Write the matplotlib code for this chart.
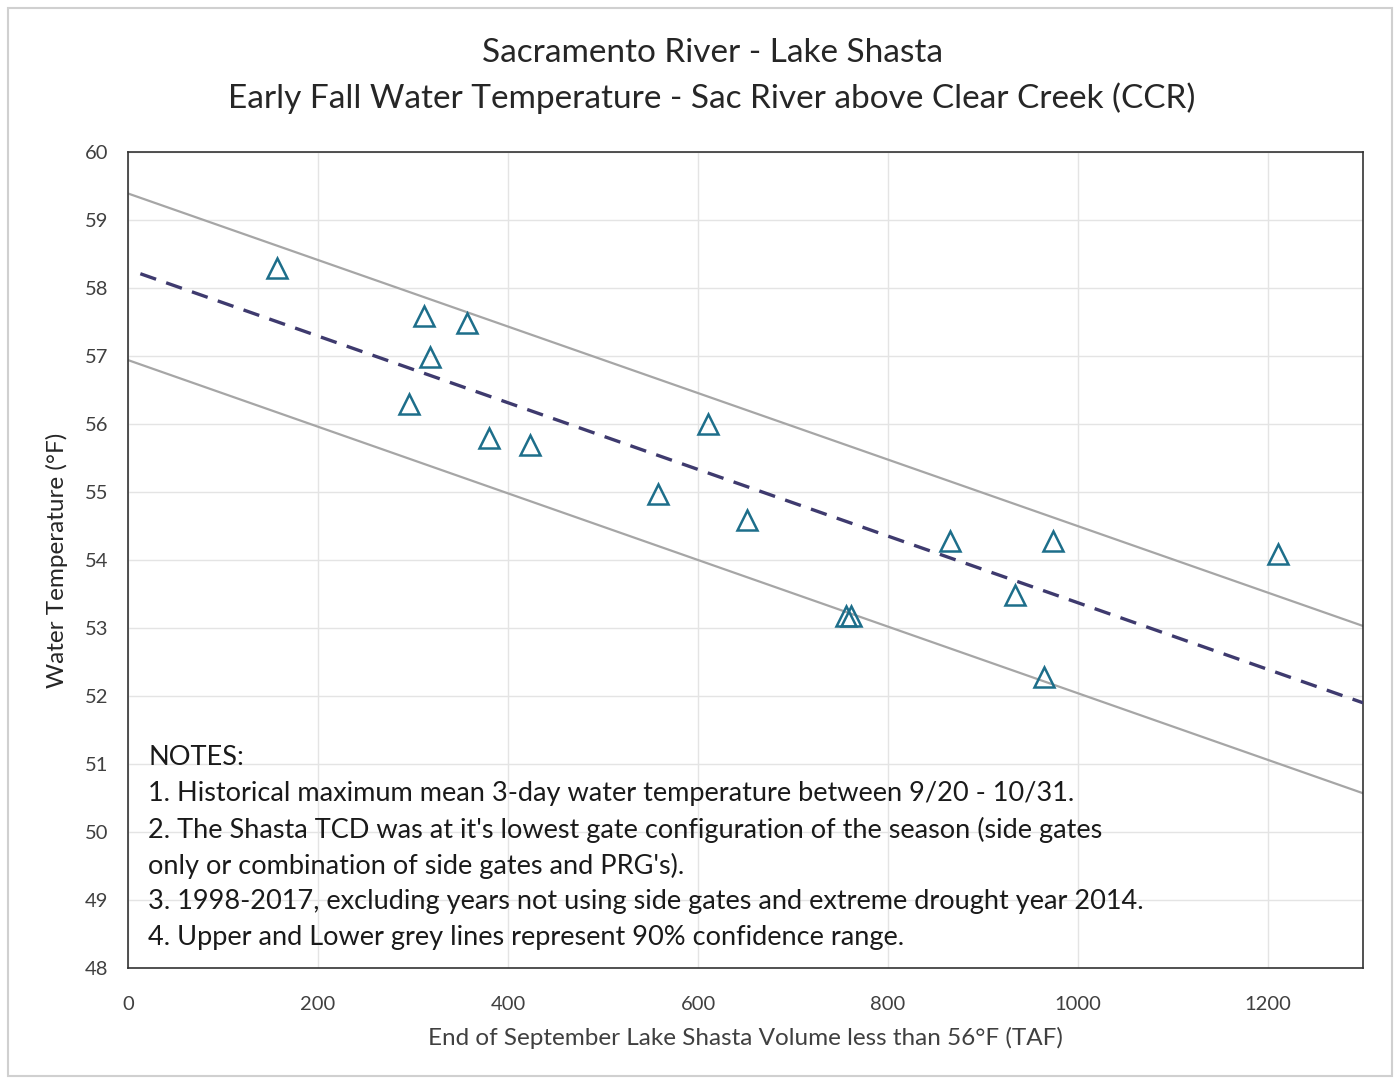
import matplotlib.pyplot as plt
from matplotlib.patches import Rectangle

plt.rcParams['font.family'] = ['Lato', 'DejaVu Sans']

# observed points (volume TAF, temperature F)
volume = [157, 312, 357, 318, 296, 380, 423, 611, 558, 652, 756, 761, 865, 974, 934, 964, 1211]
temp = [58.29, 57.59, 57.49, 56.99, 56.29, 55.79, 55.69, 56.0, 54.97, 54.59,
        53.18, 53.18, 54.28, 54.28, 53.49, 52.28, 54.09]

# trend line and 90% confidence bounds (end points)
trend_x = [13, 1300]
trend_y = [58.21, 51.90]
upper_x = [0, 1300]
upper_y = [59.39, 53.03]
lower_x = [0, 1300]
lower_y = [56.94, 50.57]

notes = [
    "NOTES:",
    "1. Historical maximum mean 3-day water temperature between 9/20 - 10/31.",
    "2. The Shasta TCD was at it's lowest gate configuration of the season (side gates",
    "only or combination of side gates and PRG's).",
    "3. 1998-2017, excluding years not using side gates and extreme drought year 2014.",
    "4. Upper and Lower grey lines represent 90% confidence range.",
]

fig = plt.figure(figsize=(13.99, 10.82), dpi=100)
ax = fig.add_axes([128/1399, 1 - 968/1082, 1235/1399, 816/1082])

ax.plot(upper_x, upper_y, '-', color='#a6a6a6', lw=1.6, zorder=2)
ax.plot(lower_x, lower_y, '-', color='#a6a6a6', lw=1.6, zorder=2)
ax.plot(trend_x, trend_y, '--', color='#3e3a6e', lw=2.4, dashes=(5, 3.2), zorder=3)
ax.plot(volume, temp, '^', ms=15, mfc='none', mec='#1d6e8a', mew=1.8, zorder=4)

ax.set_xlim(0, 1300)
ax.set_ylim(48, 60)
ax.set_xticks(range(0, 1201, 200))
ax.set_yticks(range(48, 61))
ax.grid(True, color='#e4e4e4', lw=1)
ax.set_axisbelow(True)
for s in ax.spines.values():
    s.set_color('#333333')
    s.set_linewidth(1.2)
ax.tick_params(length=0, labelsize=14.5, labelcolor='#404040')
ax.tick_params(axis='x', pad=20)
ax.tick_params(axis='y', pad=14)

ax.set_xlabel("End of September Lake Shasta Volume less than 56°F (TAF)",
              fontsize=17.5, color='#404040', labelpad=10)
ax.set_ylabel("Water Temperature (°F)", fontsize=17.5, color='#262626', labelpad=12)

fig.text(0.509, 1 - 53/1082, "Sacramento River - Lake Shasta",
         ha='center', va='center', fontsize=24, color='#262626')
fig.text(0.509, 1 - 98/1082, "Early Fall Water Temperature - Sac River above Clear Creek (CCR)",
         ha='center', va='center', fontsize=24, color='#262626')

for i, line in enumerate(notes):
    ax.text(0.0162, 0.2574 - i * 0.0441, line, transform=ax.transAxes,
            ha='left', va='center', fontsize=19.5, color='#1a1a1a')

fig.patches.append(Rectangle((8/1399, 6/1082), 1384/1399, 1068/1082,
                             transform=fig.transFigure, fill=False,
                             edgecolor='#d0d0d0', lw=1.5))

fig.savefig('out.png', dpi=100)
